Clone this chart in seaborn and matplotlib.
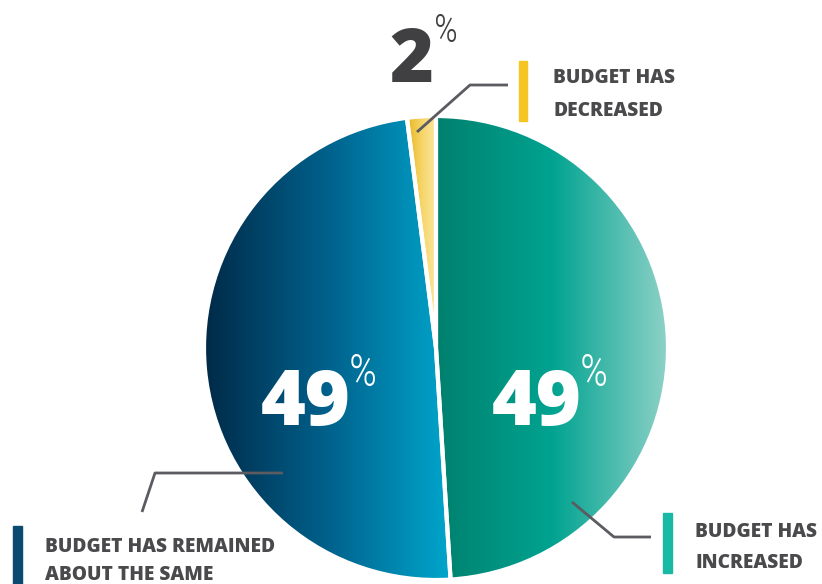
import re
import numpy as np
import matplotlib
matplotlib.use('Agg')
import matplotlib.pyplot as plt
from matplotlib import font_manager as fm
from matplotlib.colors import LinearSegmentedColormap
import seaborn as sns

sns.set_style('white')
plt.rcParams['font.family'] = ['DejaVu Sans']

# data
categories = ['BUDGET HAS\nINCREASED', 'BUDGET HAS REMAINED\nABOUT THE SAME', 'BUDGET HAS\nDECREASED']
values = [49, 49, 2]
pct_labels = ['49', '49', '2']
gradients = [['#00806e', '#00a390', '#8ed1c7'],
             ['#002a48', '#00618c', '#00a6cc'],
             ['#e9b520', '#f6d66a', '#fbe6a0']]
bar_colors = ['#1ab9a5', '#0b4a70', '#f5c623']
text_col = '#4a4a4c'
line_col = '#5b5b61'

# only plain latin families (script-specific Noto faces lack letters)
name_ok = re.compile(r'^(Roboto|Noto Sans|Open Sans|Liberation Sans|DejaVu Sans)'
                     r'( (Extra|Semi|Ultra)? ?(Condensed|Narrow))?'
                     r'( (Thin|Light|Regular|Medium|SemiBold|Bold|ExtraBold|Black))?$')


def stretch_rank(s):
    s = str(s).lower()
    if 'ultra' in s or 'extra' in s:
        return 3
    if 'semi' in s:
        return 1
    if 'condensed' in s or 'narrow' in s:
        return 2
    return 0


def pick_font(bold):
    best, score = None, -1
    for f in fm.fontManager.ttflist:
        if not name_ok.match(f.name):
            continue
        rk = max(stretch_rank(f.stretch), stretch_rank(f.name), stretch_rank(f.fname))
        if rk == 0:
            continue
        w = f.weight if isinstance(f.weight, int) else (700 if 'bold' in str(f.weight).lower() else 400)
        if bold and w < 600:
            continue
        if not bold and (w >= 600 or w < 300):
            continue
        if 'italic' in str(f.style).lower() or 'Italic' in f.fname:
            continue
        s = rk * 10 + (2 if 'Roboto' in f.name else 0) + (1 if 'Noto' in f.name else 0)
        if not bold and w < 400:
            s += 0.5  # the small % signs are light
        if s > score:
            best, score = f.fname, s
    return best


bold_path = pick_font(True)
reg_path = pick_font(False)


def fp(size, bold=True):
    path = bold_path if bold else reg_path
    if path:
        return fm.FontProperties(fname=path, size=size)
    return fm.FontProperties(family='DejaVu Sans', weight='bold' if bold else 'normal', size=size)


fig = plt.figure(figsize=(8.22, 5.84), dpi=100)
ax = fig.add_axes([0, 0, 1, 1])

cx, cy, r = 436, 348, 232
wedges, _ = ax.pie(values, center=(cx, cy), radius=r, startangle=-90, counterclock=True,
                   wedgeprops=dict(edgecolor='white', linewidth=3), frame=True)
ax.set_xlim(0, 822)
ax.set_ylim(584, 0)
ax.axis('off')

grad = np.linspace(0, 1, 256).reshape(1, -1)
inv = ax.transData.inverted()
for w, cols in zip(wedges, gradients):
    w.set_facecolor('none')
    bb = w.get_path().get_extents(w.get_transform())
    (x0, y0), (x1, y1) = inv.transform([[bb.x0, bb.y0], [bb.x1, bb.y1]])
    cmap = LinearSegmentedColormap.from_list('g', cols)
    im = ax.imshow(grad, cmap=cmap, extent=(min(x0, x1), max(x0, x1), max(y0, y1), min(y0, y1)),
                   aspect='auto', zorder=1, interpolation='bicubic')
    im.set_clip_path(w)
    w.set_zorder(2)
ax.set_xlim(0, 822)
ax.set_ylim(584, 0)

renderer = fig.canvas.get_renderer()


def fit_text(x, y, s, width, size, bold=True, ha='left', va='baseline', **kw):
    # shrink the font until the text is no wider than allowed
    t = ax.text(x, y, s, fontproperties=fp(size, bold), ha=ha, va=va, **kw)
    bw = t.get_window_extent(renderer).width
    if bw > width:
        t.set_fontproperties(fp(size * width / bw, bold))
    return t


def right_edge(t):
    bb = t.get_window_extent(renderer)
    return inv.transform([[bb.x1, bb.y0]])[0][0]


# big percentages
for xc, s in [(306, pct_labels[1]), (537, pct_labels[0])]:
    t = fit_text(xc, 425, s, 90, 62, ha='center', color='white', zorder=5)
    fit_text(right_edge(t) - 2, 352, '%', 28, 34, False, va='top', color='white', zorder=5)
t = fit_text(411, 82, pct_labels[2], 44, 67, ha='center', color='#404042', zorder=5)
fit_text(right_edge(t) + 1, 12, '%', 24, 30, False, va='top', color='#404042', zorder=5)

# leader lines
ax.plot([417, 470, 508], [132, 85, 85], color=line_col, lw=2, zorder=6, solid_capstyle='butt')
ax.plot([142, 155, 283], [512, 473, 473], color=line_col, lw=2, zorder=6, solid_capstyle='butt')
ax.plot([572, 614, 651], [502, 537, 537], color=line_col, lw=2, zorder=6, solid_capstyle='butt')

# category labels with colored bars
ax.add_patch(plt.Rectangle((519, 61), 8, 60, color=bar_colors[2], zorder=6))
ax.add_patch(plt.Rectangle((663, 513), 9, 60, color=bar_colors[0], zorder=6))
ax.add_patch(plt.Rectangle((13, 526), 9, 60, color=bar_colors[1], zorder=6))

l0 = categories[2].split('\n')
t = fit_text(553, 83, l0[0], 122, 20, color=text_col, zorder=6)
lab_fp = t.get_fontproperties()
lbl = dict(color=text_col, fontproperties=lab_fp, ha='left', va='baseline', zorder=6)
ax.text(553, 116, l0[1], **lbl)
l1 = categories[0].split('\n')
ax.text(695, 537, l1[0], **lbl)
ax.text(695, 568, l1[1], **lbl)
l2 = categories[1].split('\n')
ax.text(45, 552, l2[0], **lbl)
ax.text(45, 580, l2[1], **lbl)

fig.savefig('out.png', dpi=100, facecolor='white')
